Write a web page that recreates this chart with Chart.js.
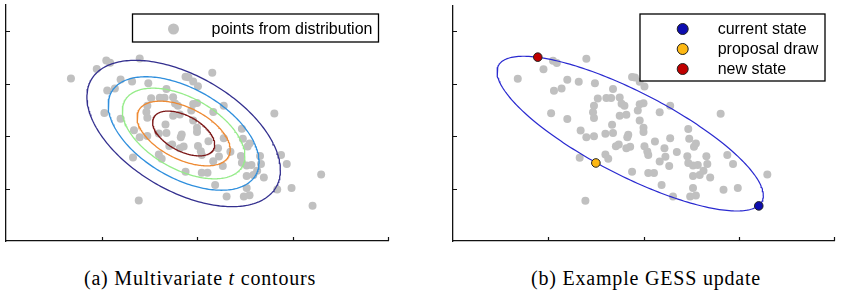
<!DOCTYPE html>
<html><head><meta charset="utf-8">
<script src="https://cdn.jsdelivr.net/npm/chart.js@4.4.1/dist/chart.umd.min.js"></script>
<style>
html,body{margin:0;padding:0;background:#fff;}
#wrap{position:relative;width:842px;height:296px;overflow:hidden;background:#fff;}
.panel{position:absolute;top:0;height:250px;}
#pa{left:0;width:400px;}
#pb{left:440px;width:402px;}
.cap{position:absolute;top:267px;font-family:"Liberation Serif","Times New Roman",serif;font-size:20px;letter-spacing:0.8px;color:#000;white-space:nowrap;transform:translateX(-50%);}
</style></head><body>
<div id="wrap">
  <div class="panel" id="pa"><canvas id="ca"></canvas></div>
  <div class="panel" id="pb"><canvas id="cb"></canvas></div>
  <div class="cap" style="left:200px">(a) Multivariate <i>t</i> contours</div>
  <div class="cap" style="left:646px">(b) Example GESS update</div>
</div>
<script>
// ---- data (axis units: x 0..4, y 0..4.5) ----
const xTickValues = [1, 2, 3, 4];
const yTickValues = [1, 2, 3, 4];

const pointsX = [0.68,0.95,1.05,1.09,1.40,1.20,1.32,1.49,1.06,1.14,
  1.68,1.88,1.91,1.96,2.01,2.16,1.52,1.61,1.66,1.75,
  1.48,1.77,1.80,1.96,2.00,2.28,1.03,1.47,1.48,1.75,
  1.82,1.94,2.17,2.81,1.20,1.67,1.96,2.00,2.00,1.34,
  1.60,1.68,1.40,1.48,1.84,1.83,2.12,2.28,2.47,2.48,
  2.55,2.53,1.71,1.74,1.82,1.86,2.01,2.04,2.05,2.22,
  2.35,1.60,1.63,1.33,2.17,2.23,2.27,2.46,2.47,2.52,
  2.57,2.66,2.67,2.88,2.94,1.88,2.05,2.11,2.52,2.59,
  2.63,2.70,2.19,2.52,2.84,2.99,3.30,2.31,2.49,2.55,
  1.39,3.21];
const pointsY = [3.10,3.28,3.44,3.40,3.48,3.08,3.04,3.01,2.87,2.91,
  2.90,3.13,3.12,3.04,2.95,3.21,2.72,2.73,2.73,2.74,
  2.58,2.62,2.58,2.61,2.63,2.58,2.44,2.46,2.35,2.39,
  2.41,2.49,2.46,2.43,2.33,2.22,2.30,2.16,2.08,2.11,
  2.05,2.06,1.98,2.00,2.03,1.98,1.90,1.96,2.14,1.95,
  1.86,1.80,1.81,1.84,1.77,1.80,1.81,1.71,1.64,1.77,
  1.70,1.65,1.57,1.59,1.52,1.61,1.43,1.62,1.49,1.44,
  1.45,1.62,1.47,1.64,1.47,1.32,1.30,1.30,1.24,1.26,
  1.34,1.21,1.07,1.01,0.98,1.01,1.27,0.85,0.85,0.87,
  0.77,0.67];

// contour ellipses of the multivariate t (centre, half-width, half-height, correlation)
const contourCenter = [1.86, 2.05];
const contourHalfWidth  = [0.325, 0.488, 0.642, 0.790, 1.013];
const contourHalfHeight = [0.427, 0.617, 0.864, 1.082, 1.395];
const contourCorr = -0.50;
const contourColors = ['#7b1717', '#ee8a33', '#96ec8a', '#2f8fdd', '#34308f'];

// GESS slice ellipse and its states
const gessHalfWidth = 1.398;
const gessHalfHeight = 1.477;
const gessCorr = -0.80;
const currentState = [3.21, 0.67];
const proposalDraw = [1.50, 1.49];
const newState = [0.89, 3.51];

const legendLabelA = 'points from distribution';
const stateLabels = ['current state', 'proposal draw', 'new state'];

// ---- helpers ----
function ellipse(center, hw, hh, r, n) {
  const pts = [], s = Math.sqrt(1 - r * r);
  for (let i = 0; i <= n; i++) {
    const t = 2 * Math.PI * i / n;
    pts.push({x: center[0] + hw * Math.cos(t), y: center[1] + hh * (r * Math.cos(t) + s * Math.sin(t))});
  }
  return pts;
}
const scatterPts = pointsX.map((x, i) => ({x: x, y: pointsY[i]}));

const innerTicks = {
  id: 'innerTicks',
  afterDraw(chart) {
    const {ctx, chartArea: a, scales: {x, y}} = chart;
    ctx.save();
    ctx.strokeStyle = '#111'; ctx.lineWidth = 1.2;
    ctx.beginPath();
    xTickValues.forEach(v => { const p = Math.round(x.getPixelForValue(v)) + 0.5; ctx.moveTo(p, a.bottom); ctx.lineTo(p, a.bottom - 4); });
    yTickValues.forEach(v => { const p = Math.round(y.getPixelForValue(v)) + 0.5; ctx.moveTo(a.left, p); ctx.lineTo(a.left + 4, p); });
    ctx.stroke();
    ctx.restore();
  }
};

const boxLegend = {
  id: 'boxLegend',
  afterDraw(chart, args, o) {
    if (!o || !o.box) return;
    const ctx = chart.ctx;
    ctx.save();
    ctx.fillStyle = '#fff';
    ctx.fillRect(o.box[0], o.box[1], o.box[2], o.box[3]);
    ctx.strokeStyle = '#000'; ctx.lineWidth = 1.3;
    ctx.strokeRect(o.box[0], o.box[1], o.box[2], o.box[3]);
    ctx.font = '16px "Liberation Sans", Arial, sans-serif';
    ctx.textBaseline = 'middle';
    ctx.textAlign = 'left';
    let row = 0;
    chart.data.datasets.forEach(ds => {
      if (!ds.inLegend) return;
      const yy = o.rowY[row++];
      ctx.beginPath();
      ctx.arc(o.markerX, yy, o.markerR, 0, 2 * Math.PI);
      ctx.fillStyle = ds.pointBackgroundColor;
      ctx.fill();
      if (ds.pointBorderWidth) { ctx.lineWidth = 1; ctx.strokeStyle = ds.pointBorderColor; ctx.stroke(); }
      ctx.fillStyle = '#000';
      ctx.fillText(ds.label, o.textX, yy + 1);
    });
    ctx.restore();
  }
};

function baseOptions(padding, legendOpts) {
  const axis = (min, max) => ({
    type: 'linear', min: min, max: max,
    ticks: {display: false, stepSize: 1},
    grid: {display: false, drawTicks: false},
    border: {display: true, color: '#111', width: 1.3}
  });
  return {
    responsive: true, maintainAspectRatio: false, animation: false, events: [],
    layout: {padding: padding},
    plugins: {legend: {display: false}, tooltip: {enabled: false}, boxLegend: legendOpts},
    scales: {x: axis(0, 4), y: axis(0, 4.5)}
  };
}

// ---- panel (a) ----
const dsA = contourColors.map((c, i) => ({
  label: 'contour ' + (i + 1),
  data: ellipse(contourCenter, contourHalfWidth[i], contourHalfHeight[i], contourCorr, 240),
  showLine: true, borderColor: c, borderWidth: 1.3, pointRadius: 0, fill: false, tension: 0, order: 1
}));
dsA.push({
  label: legendLabelA, inLegend: true, data: scatterPts,
  pointRadius: 4, pointBackgroundColor: '#c0c0c0', pointBorderWidth: 0, pointBorderColor: '#c0c0c0',
  showLine: false, order: 2
});
new Chart(document.getElementById('ca'), {
  type: 'scatter',
  data: {datasets: dsA},
  options: baseOptions({left: 6, top: 5, right: 12, bottom: 9},
    {box: [132.5, 14, 246, 28], markerX: 173.5, markerR: 5.5, textX: 211.5, rowY: [29]}),
  plugins: [innerTicks, boxLegend]
});

// ---- panel (b) ----
const stateColors = ['#0d0db0', '#fdb813', '#c00000'];
const dsB = [currentState, proposalDraw, newState].map((p, i) => ({
  label: stateLabels[i], inLegend: true, data: [{x: p[0], y: p[1]}],
  pointRadius: 4.3, pointBackgroundColor: stateColors[i], pointBorderColor: '#222', pointBorderWidth: 1,
  showLine: false, order: 0
}));
dsB.push({
  label: 'slice ellipse',
  data: ellipse(contourCenter, gessHalfWidth, gessHalfHeight, gessCorr, 240),
  showLine: true, borderColor: '#2a2ad0', borderWidth: 1.2, pointRadius: 0, fill: false, tension: 0, order: 1
});
dsB.push({
  label: legendLabelA, data: scatterPts,
  pointRadius: 4, pointBackgroundColor: '#c0c0c0', pointBorderWidth: 0, pointBorderColor: '#c0c0c0',
  showLine: false, order: 2
});
new Chart(document.getElementById('cb'), {
  type: 'scatter',
  data: {datasets: dsB},
  options: baseOptions({left: 13, top: 5, right: 8, bottom: 9},
    {box: [200, 14, 185, 67], markerX: 242.7, markerR: 5.5, textX: 277.7, rowY: [29, 49, 69]}),
  plugins: [innerTicks, boxLegend]
});
</script>
</body></html>
